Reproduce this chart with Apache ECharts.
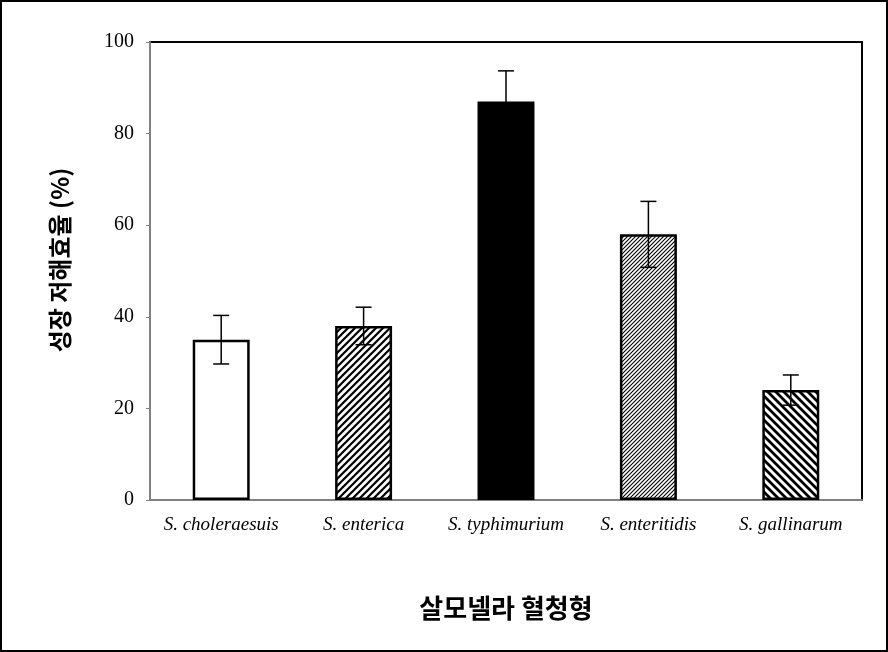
<!DOCTYPE html>
<html><head><meta charset="utf-8">
<script src="https://cdn.jsdelivr.net/npm/echarts@6/dist/echarts.min.js"></script>
<style>html,body{margin:0;padding:0;background:#fff}#c{width:888px;height:652px;box-sizing:border-box;border:2px solid #000}</style>
</head><body><div id="c"></div>
<script>
const categories = ['S. choleraesuis','S. enterica','S. typhimurium','S. enteritidis','S. gallinarum'];
const values = [35, 38, 87, 58, 24];
const errors = [5.3, 4.1, 6.7, 7.2, 3.3];
const yTicks = [0, 20, 40, 60, 80, 100];
const yTitle = '성장 저해효율 (%)';
const xTitle = '살모넬라 혈청형';

function stripe(period, lw, dir){
  const c = document.createElement('canvas');
  c.width = period; c.height = period;
  const g = c.getContext('2d');
  g.fillStyle = '#fff'; g.fillRect(0,0,period,period);
  g.strokeStyle = '#000'; g.lineWidth = lw;
  const p = period;
  const segs = dir > 0
    ? [[-p,p,p,-p],[0,p,p,0],[0,2*p,2*p,0]]
    : [[0,0,p,p],[-p,0,p,2*p],[0,-p,2*p,p]];
  g.beginPath();
  segs.forEach(s=>{g.moveTo(s[0],s[1]);g.lineTo(s[2],s[3]);});
  g.stroke();
  return {image:c, repeat:'repeat'};
}
const fills = ['#ffffff', stripe(7,2.2,1), '#000000', stripe(4,1.1,1), stripe(8,2.8,-1)];

const chart = echarts.init(document.getElementById('c'), null, {renderer:'canvas'});
const errData = values.map((v,i)=>[i, v-errors[i], v+errors[i]]);
chart.setOption({
  animation:false,
  grid:{left:148, right:24, top:40, bottom:150, show:true, borderColor:'#000', borderWidth:2, backgroundColor:'transparent'},
  graphic:[{type:'text', x:58, y:258, rotation:Math.PI/2,
    style:{text:yTitle, fontFamily:'Noto Sans CJK KR', fontWeight:'bold', fontSize:24, fill:'#000', align:'center', verticalAlign:'middle'}}],
  xAxis:{type:'category', data:categories,
    axisLine:{lineStyle:{color:'#808080', width:2}},
    axisTick:{show:false},
    axisLabel:{interval:0, fontFamily:'Liberation Serif', fontStyle:'italic', fontSize:19, color:'#000', margin:15},
    name:xTitle, nameLocation:'middle', nameGap:95,
    nameTextStyle:{fontFamily:'Noto Sans CJK KR', fontWeight:'bold', fontSize:26, color:'#000'}
  },
  yAxis:{type:'value', min:yTicks[0], max:yTicks[yTicks.length-1], interval:20,
    axisLine:{show:true, lineStyle:{color:'#808080', width:2}},
    axisTick:{show:true, inside:false, length:4, lineStyle:{color:'#808080'}},
    splitLine:{show:false},
    axisLabel:{fontFamily:'Liberation Serif', fontSize:20, color:'#000', margin:16},
  },
  series:[
    {type:'bar', data:values.map((v,i)=>({value:v, itemStyle:{color:fills[i]}})),
      barWidth:'40%', itemStyle:{borderColor:'#000', borderWidth:2.5}},
    {type:'custom', data:errData, z:10,
      renderItem:function(params, api){
        const x = api.value(0);
        const lo = api.coord([x, api.value(1)]);
        const hi = api.coord([x, api.value(2)]);
        const w = 8;
        return {type:'group', children:[
          {type:'line', shape:{x1:hi[0],y1:hi[1],x2:lo[0],y2:lo[1]}, style:{stroke:'#000', lineWidth:1.5}},
          {type:'line', shape:{x1:hi[0]-w,y1:hi[1],x2:hi[0]+w,y2:hi[1]}, style:{stroke:'#000', lineWidth:1.5}},
          {type:'line', shape:{x1:lo[0]-w,y1:lo[1],x2:lo[0]+w,y2:lo[1]}, style:{stroke:'#000', lineWidth:1.5}}
        ]};
      }
    }
  ]
});
</script></body></html>
